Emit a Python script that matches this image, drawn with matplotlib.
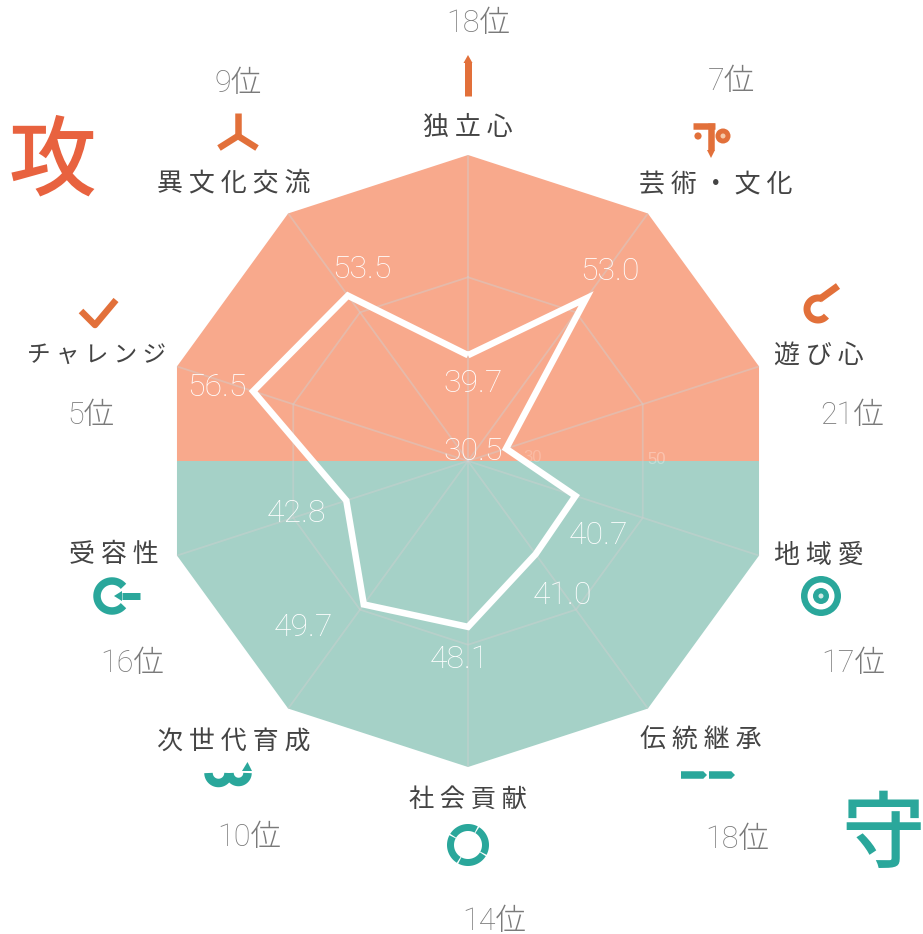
import matplotlib
matplotlib.use('Agg')
import matplotlib.pyplot as plt
from matplotlib.patches import Circle, Polygon, Rectangle
import numpy as np

# Chart data, clockwise from the top
labels = ['独立心', '芸術・文化', '遊び心', '地域愛', '伝統継承',
          '社会貢献', '次世代育成', '受容性', 'チャレンジ', '異文化交流']
scores = [39.7, 53.0, 30.5, 40.7, 41.0, 48.1, 49.7, 42.8, 56.5, 53.5]
ranks = [18, 7, 21, 17, 18, 14, 10, 16, 5, 9]

# Radial scale
r_min = 24.9
r_max = 67.7
ring_level = 50.6

# Label positions in pixels
label_pos = [(468, 127), (716, 185), (819, 355), (819, 555), (701, 740),
             (468, 800), (234, 742), (114, 554), (97, 355), (234, 183)]
rank_pos = [(478, 24), (731, 82), (852, 416), (853, 663), (737, 839),
            (494, 921), (249, 837), (132, 663), (91, 416), (238, 83)]
score_pos = [(473, 383), (610, 272), (473, 452), (599, 535), (562, 595),
             (459, 660), (303, 628), (297, 513), (217, 388), (362, 269)]
label_sizes = [18.7, 18.7, 18.7, 18.7, 18.7, 18.2, 18.7, 18.7, 17, 18.7]

W, H = 923, 934
CX, CY, R = 468, 461, 306
ORANGE_BG = '#F8A98C'
GREEN_BG = '#A5D1C7'
ORANGE = '#E2703A'
TEAL = '#2AA79B'
JP = ['Noto Sans CJK JP', 'DejaVu Sans']
NUM = ['Roboto', 'Noto Sans CJK JP']

fig = plt.figure(figsize=(W / 100, H / 100), dpi=100, facecolor='white')

# radar part
ax = fig.add_axes([(CX - R) / W, (H - CY - R) / H, 2 * R / W, 2 * R / H],
                  projection='polar')
ax.set_theta_zero_location('N')
ax.set_theta_direction(-1)
ax.set_ylim(r_min, r_max)
ax.axis('off')

angles = np.arange(len(labels)) * 2 * np.pi / len(labels)
closed = np.append(angles, angles[0])

top = ax.fill(closed, [r_max] * len(closed), color=ORANGE_BG, lw=0)[0]
top.set_clip_path(Rectangle((0, 0.5), 1, 0.5, transform=ax.transAxes))
bottom = ax.fill(closed, [r_max] * len(closed), color=GREEN_BG, lw=0)[0]
bottom.set_clip_path(Rectangle((0, 0), 1, 0.5, transform=ax.transAxes))

for a in angles:
    ax.plot([a, a], [r_min, r_max], color='#CFCFCF', alpha=0.45, lw=1.3)
ax.plot(closed, [ring_level] * len(closed), color='#CFCFCF', alpha=0.45, lw=1.3)

ax.plot(closed, scores + scores[:1], color='white', lw=4.7,
        solid_joinstyle='miter', solid_capstyle='butt')

# text and icons, in pixel coordinates
ov = fig.add_axes([0, 0, 1, 1])
ov.set_xlim(0, W)
ov.set_ylim(H, 0)
ov.axis('off')
ov.patch.set_alpha(0)

for name, (x, y), size in zip(labels, label_pos, label_sizes):
    ov.text(x, y, ' '.join(name), family=JP, fontsize=size, color='#444444',
            ha='center', va='center')
for rank, (x, y) in zip(ranks, rank_pos):
    ov.text(x, y, f'{rank}位', family=NUM, weight='light',
            fontsize=22, color='#7A7A7A', ha='center', va='center')
for score, (x, y) in zip(scores, score_pos):
    ov.text(x, y, f'{score:.1f}', family='Roboto', weight='light', fontsize=23,
            color='white', ha='center', va='center')

ov.text(533, 458, '30', family='Liberation Sans', fontsize=12, color='white',
        alpha=0.2, ha='center', va='center')
ov.text(657, 460, '50', family='Liberation Sans', fontsize=12, color='white',
        alpha=0.3, ha='center', va='center')

ov.text(52, 163, '攻', family=JP, weight='medium', fontsize=63, color='#E8623F',
        ha='center', va='center')
ov.text(883, 838, '守', family=JP, weight='medium', fontsize=60, color=TEAL,
        ha='center', va='center')


def stroke(xs, ys, color, px=6.5):
    ov.plot(xs, ys, color=color, lw=px * 0.72, solid_capstyle='butt',
            solid_joinstyle='round')


def arc(cx, cy, r, a0, a1, color, px=6.5):
    t = np.radians(np.linspace(a0, a1, 40))
    stroke(cx + r * np.cos(t), cy - r * np.sin(t), color, px)


def tri(points, color):
    ov.add_patch(Polygon(points, color=color, lw=0))


# 独立心
stroke([468, 468], [62, 96], ORANGE, 7)
tri([(463.5, 63), (472.5, 63), (468, 55)], ORANGE)
# 芸術・文化
stroke([693, 715], [126, 126], ORANGE)
stroke([711, 711], [123, 150], ORANGE, 6.5)
tri([(707, 150), (715, 150), (711, 158)], ORANGE)
ov.add_patch(Circle((698, 136), 3.6, color=ORANGE, lw=0))
ov.add_patch(Circle((723, 136), 7.5, color=ORANGE, lw=0))
ov.add_patch(Circle((723, 136), 2.5, color='#F5C9A8', lw=0))
# 遊び心
arc(818, 309, 11, 65, 320, ORANGE, 7)
stroke([820, 838], [299, 286], ORANGE, 7)
# 地域愛
ov.add_patch(Circle((821, 596), 20, color=TEAL, lw=0))
ov.add_patch(Circle((821, 596), 13.5, color='white', lw=0))
ov.add_patch(Circle((821, 596), 8, color=TEAL, lw=0))
ov.add_patch(Circle((821, 596), 2.5, color='#CFEAE5', lw=0))
# 伝統継承
stroke([681, 703], [775, 775], TEAL, 7.5)
tri([(703, 771), (703, 779), (707, 775)], TEAL)
stroke([709, 731], [775, 775], TEAL, 7.5)
tri([(731, 771), (731, 779), (735, 775)], TEAL)
# 社会貢献
for a0 in [60, 150, 240, 330]:
    arc(468, 845, 17.5, a0 + 2, a0 + 88, TEAL, 7)
# 次世代育成
arc(218.5, 773, 10, 180, 360, TEAL, 8.5)
arc(238.5, 773, 9, 180, 360, TEAL, 8.5)
tri([(242, 771), (252, 771), (247.5, 762)], TEAL)
# 受容性
arc(112, 596, 15, 40, 320, TEAL, 7.5)
stroke([122, 140], [596, 596], TEAL, 7)
tri([(122, 591), (122, 601), (114, 596)], TEAL)
# チャレンジ
stroke([81, 95, 116], [311, 325, 300], ORANGE)
# 異文化交流
stroke([238, 238], [113, 136], ORANGE)
stroke([219, 238, 257], [148, 136, 148], ORANGE)

fig.savefig('out.png', dpi=100)
